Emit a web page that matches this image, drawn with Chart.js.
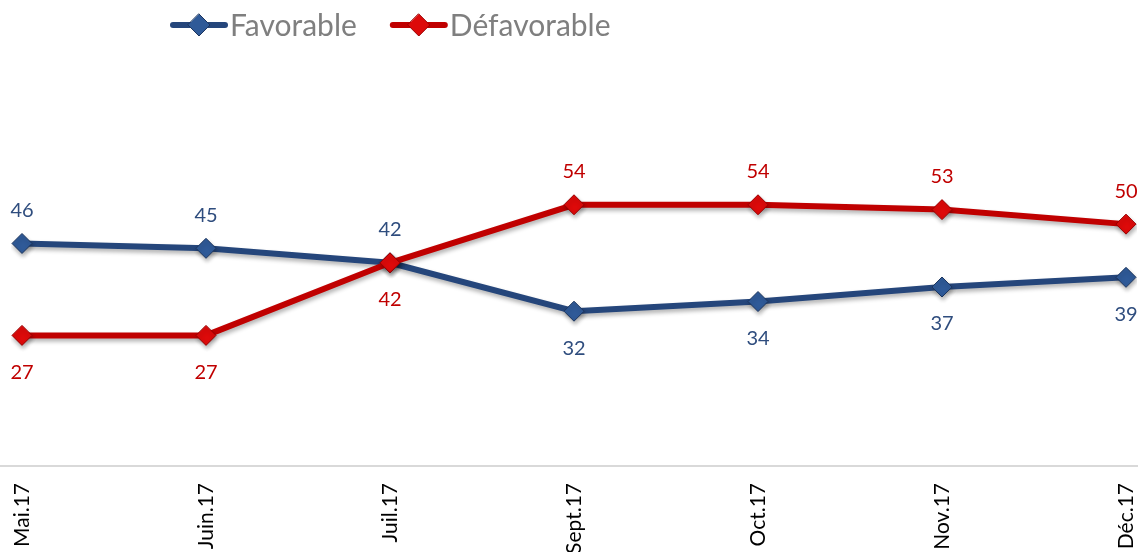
<!DOCTYPE html>
<html lang="fr">
<head>
<meta charset="utf-8">
<title>Favorable / Défavorable</title>
<script src="https://cdn.jsdelivr.net/npm/chart.js@4.4.1/dist/chart.umd.min.js"></script>
<style>
  html, body { margin: 0; padding: 0; background: #fff; overflow: hidden; }
  #wrap { position: relative; width: 1138px; height: 552px; }
</style>
</head>
<body>
<div id="wrap"><canvas id="chart"></canvas></div>
<script>
"use strict";

/* ================================
   DONNÉES
   ================================ */
const MOIS = ["Mai.17", "Juin.17", "Juil.17", "Sept.17", "Oct.17", "Nov.17", "Déc.17"];
const FAVORABLE = [46, 45, 42, 32, 34, 37, 39];
const DEFAVORABLE = [27, 27, 42, 54, 54, 53, 50];
const NOMS = ["Favorable", "Défavorable"];

/* ================================
   STYLE
   ================================ */
const BLEU = "#25467B";
const ROUGE = "#C00000";
const FONT = "Lato";

function losange(ctx, x, y, rx, ry, fill, stroke) {
  ctx.beginPath();
  ctx.moveTo(x, y - ry);
  ctx.lineTo(x + rx, y);
  ctx.lineTo(x, y + ry);
  ctx.lineTo(x - rx, y);
  ctx.closePath();
  ctx.fillStyle = fill;
  ctx.fill();
  ctx.lineWidth = 1;
  ctx.strokeStyle = stroke;
  ctx.stroke();
}

/* ================================
   PLUGINS
   ================================ */
// ligne d'axe sur toute la largeur
const axePlugin = {
  id: "axe",
  beforeDatasetsDraw(chart) {
    const { ctx, chartArea } = chart;
    ctx.save();
    ctx.strokeStyle = "#D9D9D9";
    ctx.lineWidth = 2;
    ctx.beginPath();
    ctx.moveTo(0, chartArea.bottom);
    ctx.lineTo(chart.width, chartArea.bottom);
    ctx.stroke();
    ctx.restore();
  }
};

// petite ombre sous les courbes
const ombrePlugin = {
  id: "ombre",
  beforeDatasetDraw(chart) {
    const c = chart.ctx;
    c.save();
    c.shadowColor = "rgba(0,0,0,0.3)";
    c.shadowBlur = 4;
    c.shadowOffsetX = 1;
    c.shadowOffsetY = 3;
  },
  afterDatasetDraw(chart) {
    chart.ctx.restore();
  }
};

// étiquettes de valeurs (au-dessus pour la série la plus haute)
const etiquettesPlugin = {
  id: "etiquettes",
  afterDatasetsDraw(chart) {
    const ctx = chart.ctx;
    const ds = chart.data.datasets;
    ctx.save();
    ctx.font = "20px " + FONT;
    ctx.textAlign = "center";
    ctx.textBaseline = "middle";
    ds.forEach((d, i) => {
      const autre = ds[1 - i].data;
      const meta = chart.getDatasetMeta(i);
      meta.data.forEach((pt, j) => {
        const v = d.data[j];
        const dessus = i === 0 ? v >= autre[j] : v > autre[j];
        ctx.fillStyle = d.labelColor;
        ctx.fillText(String(v), pt.x, pt.y + (dessus ? -33 : 37));
      });
    });
    ctx.restore();
  }
};

// légende : trait + losange, puis texte gris
const legendePlugin = {
  id: "legende",
  afterDraw(chart) {
    const ctx = chart.ctx;
    const y = 25;
    let x = 170;
    ctx.save();
    ctx.font = "30px " + FONT;
    ctx.textBaseline = "middle";
    ctx.textAlign = "left";
    chart.data.datasets.forEach(d => {
      ctx.strokeStyle = d.borderColor;
      ctx.lineWidth = 6;
      ctx.lineCap = "round";
      ctx.beginPath();
      ctx.moveTo(x + 3, y);
      ctx.lineTo(x + 55, y);
      ctx.stroke();
      losange(ctx, x + 29, y, 11, 11, d.pointBackgroundColor, d.pointBorderColor);
      ctx.fillStyle = "#7F7F7F";
      ctx.fillText(d.label, x + 60, y + 1);
      x += 60 + ctx.measureText(d.label).width + 33;
    });
    ctx.restore();
  }
};

/* ================================
   CHART
   ================================ */
const ctx = document.getElementById("chart").getContext("2d");

new Chart(ctx, {
  type: "line",
  data: {
    labels: MOIS,
    datasets: [
      {
        label: NOMS[0],
        data: FAVORABLE,
        order: 1,
        borderColor: BLEU,
        borderWidth: 6,
        pointStyle: "rectRot",
        pointRadius: 10,
        pointBackgroundColor: "#2F5A98",
        pointBorderColor: "#1C355E",
        pointBorderWidth: 1,
        labelColor: "#2F4D7E",
        tension: 0
      },
      {
        label: NOMS[1],
        data: DEFAVORABLE,
        order: 0,
        borderColor: ROUGE,
        borderWidth: 6,
        pointStyle: "rectRot",
        pointRadius: 10,
        pointBackgroundColor: "#DD0A0A",
        pointBorderColor: "#990000",
        pointBorderWidth: 1,
        labelColor: ROUGE,
        tension: 0
      }
    ]
  },
  options: {
    responsive: true,
    maintainAspectRatio: false,
    animation: false,
    layout: { padding: { left: 22, right: 12, top: 79, bottom: 0 } },
    plugins: {
      legend: { display: false },
      tooltip: { enabled: false }
    },
    scales: {
      x: {
        offset: false,
        grid: { display: false, drawTicks: false },
        border: { display: false },
        ticks: {
          autoSkip: false,
          minRotation: 90,
          maxRotation: 90,
          padding: 17,
          color: "#000000",
          font: { family: FONT, size: 21 }
        },
        afterFit(scale) {
          scale.height = 86;
          scale.paddingLeft = 0;
          scale.paddingRight = 0;
        }
      },
      y: {
        display: false,
        min: 0,
        max: 80
      }
    }
  },
  plugins: [axePlugin, ombrePlugin, etiquettesPlugin, legendePlugin]
});
</script>
</body>
</html>
